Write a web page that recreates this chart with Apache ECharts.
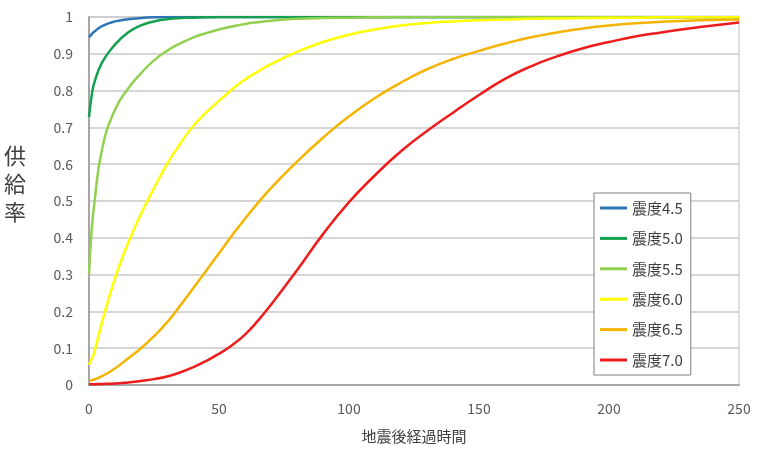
<!DOCTYPE html>
<html>
<head>
<meta charset="utf-8">
<script src="https://cdn.jsdelivr.net/npm/echarts@6/dist/echarts.min.js"></script>
<style>
  html, body { margin: 0; padding: 0; background: #fff; }
  #main { width: 758px; height: 450px; }
</style>
</head>
<body>
<div id="main"></div>
<script>
    // 経過時間（横軸）
    var times = [0, 1, 2, 5, 10, 15, 20, 25, 30, 35, 40, 45, 50, 55, 60, 65, 70, 80, 90, 100, 110, 120, 130, 140, 150, 160, 170, 180, 190, 200, 210, 220, 230, 240, 250];
    var xTicks = [0, 50, 100, 150, 200, 250];
    var yTicks = [0, 0.1, 0.2, 0.3, 0.4, 0.5, 0.6, 0.7, 0.8, 0.9, 1];

    // 供給率
    var s45 = [0.945, 0.953, 0.96, 0.975, 0.988, 0.994, 0.997, 0.999, 1, 1, 1, 1, 1, 1, 1, 1, 1, 1, 1, 1, 1, 1, 1, 1, 1, 1, 1, 1, 1, 1, 1, 1, 1, 1, 1];
    var s50 = [0.728, 0.785, 0.82, 0.876, 0.925, 0.958, 0.977, 0.988, 0.994, 0.997, 0.998, 0.999, 1, 1, 1, 1, 1, 1, 1, 1, 1, 1, 1, 1, 1, 1, 1, 1, 1, 1, 1, 1, 1, 1, 1];
    var s55 = [0.30, 0.42, 0.49, 0.64, 0.748, 0.805, 0.847, 0.882, 0.908, 0.928, 0.944, 0.956, 0.966, 0.974, 0.981, 0.986, 0.99, 0.995, 0.997, 0.998, 0.999, 1, 1, 1, 1, 1, 1, 1, 1, 1, 1, 1, 1, 1, 1];
    var s60 = [0.055, 0.07, 0.088, 0.17, 0.29, 0.385, 0.465, 0.535, 0.60, 0.655, 0.703, 0.74, 0.772, 0.803, 0.83, 0.852, 0.872, 0.905, 0.932, 0.952, 0.966, 0.977, 0.984, 0.988, 0.991, 0.993, 0.995, 0.996, 0.997, 0.998, 0.998, 0.999, 0.999, 0.999, 1];
    var s65 = [0.012, 0.013, 0.015, 0.024, 0.045, 0.072, 0.1, 0.133, 0.17, 0.215, 0.262, 0.31, 0.358, 0.406, 0.452, 0.495, 0.535, 0.607, 0.672, 0.73, 0.78, 0.822, 0.858, 0.886, 0.908, 0.928, 0.945, 0.958, 0.969, 0.977, 0.983, 0.987, 0.99, 0.992, 0.993];
    var s70 = [0.002, 0.002, 0.002, 0.003, 0.004, 0.007, 0.011, 0.016, 0.023, 0.034, 0.048, 0.065, 0.085, 0.108, 0.137, 0.175, 0.218, 0.312, 0.41, 0.497, 0.57, 0.635, 0.69, 0.74, 0.788, 0.832, 0.866, 0.893, 0.915, 0.932, 0.947, 0.958, 0.968, 0.977, 0.985];

    var names = ['震度4.5', '震度5.0', '震度5.5', '震度6.0', '震度6.5', '震度7.0'];
    var colors = ['#2e75b6', '#14a050', '#92d050', '#ffff00', '#f4b400', '#ee1c1c'];
    var values = [s45, s50, s55, s60, s65, s70];

    function pairs(ys) {
        var out = [];
        for (var i = 0; i < times.length; i++) {
            out.push([times[i], ys[i]]);
        }
        return out;
    }

    var seriesList = [];
    for (var k = 0; k < names.length; k++) {
        seriesList.push({
            name: names[k],
            type: 'line',
            data: pairs(values[k]),
            smooth: 0.5,
            showSymbol: false,
            symbol: 'none',
            color: colors[k],
            lineStyle: { width: 2.5, color: colors[k] }
        });
    }

    var font = '"Noto Sans CJK JP", "Noto Sans", sans-serif';

    var myChart = echarts.init(document.getElementById('main'));
    myChart.setOption({
        animation: false,
        textStyle: { fontFamily: font },
        grid: {
            left: 89, right: 19, top: 17, bottom: 65,
            show: true,
            borderColor: '#bfbfbf',
            borderWidth: 1
        },
        legend: {
            data: names,
            orient: 'vertical',
            left: 594,
            top: 193,
            icon: 'rect',
            itemWidth: 27,
            itemHeight: 3,
            itemGap: 14.4,
            padding: [7, 8, 7, 6],
            borderColor: '#808080',
            borderWidth: 1,
            backgroundColor: '#ffffff',
            textStyle: { fontSize: 15, lineHeight: 16, color: '#404040', fontFamily: font }
        },
        xAxis: {
            type: 'value',
            min: xTicks[0],
            max: xTicks[xTicks.length - 1],
            interval: 50,
            name: '地震後経過時間',
            nameLocation: 'middle',
            nameGap: 44,
            nameTextStyle: { fontSize: 15, color: '#404040' },
            axisLine: { show: true, lineStyle: { color: '#a6a6a6', width: 2 } },
            axisTick: { show: false },
            axisLabel: { fontSize: 14, color: '#595959', margin: 17 },
            splitLine: { show: false }
        },
        yAxis: {
            type: 'value',
            min: yTicks[0],
            max: yTicks[yTicks.length - 1],
            interval: 0.1,
            axisLine: { show: true, lineStyle: { color: '#a6a6a6', width: 2 } },
            axisTick: { show: false },
            axisLabel: { fontSize: 14, color: '#595959', margin: 16 },
            splitLine: { lineStyle: { color: '#c8c8c8', width: 1.5 } }
        },
        graphic: [{
            type: 'text',
            left: 4,
            top: 142,
            style: {
                text: '供\n給\n率',
                fontSize: 22,
                lineHeight: 28,
                fill: '#404040',
                fontFamily: font
            }
        }],
        series: seriesList
    });
</script>
</body>
</html>
